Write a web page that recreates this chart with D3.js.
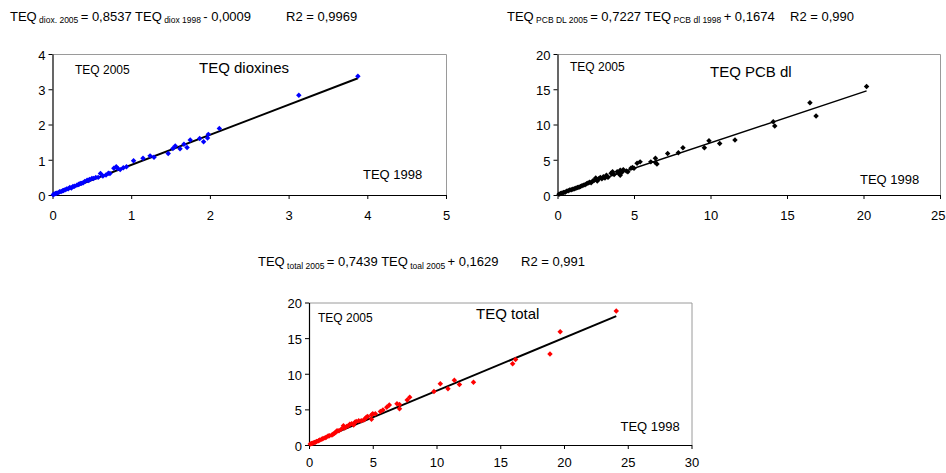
<!DOCTYPE html>
<html>
<head>
<meta charset="utf-8">
<script src="https://cdn.jsdelivr.net/npm/d3@7"></script>
<style>
  html, body { margin: 0; padding: 0; background: #fff; }
  svg { display: block; font-family: "Liberation Sans", Arial, sans-serif; }
</style>
</head>
<body>
<svg id="chart" width="946" height="473"></svg>
<script>
// TEQ 1998 (x) versus TEQ 2005 (y) for each sample, by group
const dioxX = [0.01,0.02,0.04,0.05,0.07,0.09,0.11,0.13,0.14,0.16,0.18,0.20,0.22,0.24,0.26,0.28,0.31,0.33,0.34,0.36,0.37,0.39,0.41,0.44,0.46,0.47,0.50,0.52,0.55,0.58,0.61,0.64,0.68,0.71,0.73,0.78,0.81,0.83,0.86,0.90,0.94,1.03,1.15,1.24,1.29,1.47,1.53,1.56,1.62,1.67,1.71,1.75,1.87,1.92,1.97,1.98,2.12,3.13,3.88];
const dioxY = [0.01,0.03,0.04,0.05,0.06,0.09,0.10,0.12,0.13,0.15,0.17,0.18,0.21,0.20,0.24,0.25,0.28,0.30,0.31,0.33,0.33,0.35,0.38,0.42,0.41,0.44,0.47,0.47,0.50,0.50,0.61,0.54,0.57,0.62,0.61,0.76,0.80,0.75,0.72,0.77,0.80,0.97,1.04,1.11,1.07,1.18,1.32,1.39,1.31,1.44,1.35,1.56,1.60,1.51,1.62,1.72,1.89,2.83,3.37];

const pcbX = [0.1,0.2,0.3,0.4,0.5,0.6,0.7,0.8,0.9,1.0,1.1,1.2,1.3,1.4,1.5,1.6,1.7,1.8,1.9,2.0,2.1,2.2,2.3,2.4,2.5,2.6,2.7,2.8,2.9,3.0,3.1,3.2,3.3,3.5,3.6,3.7,3.9,4.0,4.1,4.1,4.2,4.3,4.5,4.6,4.8,4.9,5.0,5.2,5.4,6.1,6.4,6.4,6.5,7.2,7.9,8.2,9.6,9.9,10.6,11.6,14.1,14.2,16.5,16.9,20.2];
const pcbY = [0.1,0.2,0.3,0.35,0.4,0.55,0.6,0.7,0.75,0.8,0.9,0.95,1.05,1.1,1.2,1.3,1.4,1.45,1.6,1.7,1.8,1.75,2.0,2.1,2.4,2.0,2.3,2.5,2.3,2.6,2.4,2.8,2.5,3.1,3.3,2.9,3.3,3.1,3.5,2.8,3.2,3.6,3.4,3.3,3.8,3.9,3.8,4.5,4.7,4.7,5.2,4.6,4.4,5.9,6.0,6.7,6.7,7.7,7.3,7.8,10.4,9.8,13.1,11.2,15.4];

const totX = [0.1,0.2,0.3,0.4,0.5,0.6,0.75,0.85,1.0,1.1,1.25,1.35,1.5,1.6,1.8,1.9,2.0,2.1,2.2,2.35,2.55,2.7,2.8,2.95,3.1,3.2,3.35,3.5,3.6,3.7,3.9,4.1,4.3,4.4,4.5,4.6,4.9,4.9,5.0,5.2,5.6,5.8,6.1,6.3,6.9,7.1,7.1,7.7,7.9,9.8,10.3,10.9,11.4,11.8,12.9,15.97,16.2,18.9,19.7,24.1];
const totY = [0.15,0.2,0.25,0.35,0.4,0.5,0.6,0.7,0.8,0.9,1.0,1.1,1.25,1.3,1.4,1.55,1.65,1.8,2.0,2.0,2.25,2.7,2.4,2.6,2.7,2.9,3.0,2.8,3.2,3.3,3.4,3.4,3.5,3.7,3.9,4.0,4.2,3.6,4.4,4.4,4.7,4.9,5.3,5.6,5.8,5.7,5.1,6.3,6.7,7.5,8.6,7.9,9.1,8.5,8.8,11.4,12.0,12.76,15.9,18.8];

// Linear fits (slope, intercept) as stated in the equations
const dioxFit = [0.8537, -0.0009];
const pcbFit = [0.7227, 0.1674];
const totFit = [0.7439, 0.1629];

// Axis tick values
const dioxXTicks = [0, 1, 2, 3, 4, 5];
const dioxYTicks = [0, 1, 2, 3, 4];
const pcbXTicks = [0, 5, 10, 15, 20, 25];
const pcbYTicks = [0, 5, 10, 15, 20];
const totXTicks = [0, 5, 10, 15, 20, 25, 30];
const totYTicks = [0, 5, 10, 15, 20];

// Panel titles and corner labels
const panelTitles = ["TEQ dioxines", "TEQ PCB dl", "TEQ total"];
const yLabelText = "TEQ 2005";
const xLabelText = "TEQ 1998";

const svg = d3.select("#chart");
const W = +svg.attr("width");

function drawPanel(p) {
  const x = d3.scaleLinear().domain([0, p.xTicks[p.xTicks.length - 1]]).range([p.left, p.right]);
  const y = d3.scaleLinear().domain([0, p.yTicks[p.yTicks.length - 1]]).range([p.bottom, p.top]);
  const g = svg.append("g");

  // plot frame: grey top and right edges
  g.append("path")
    .attr("d", `M${p.left},${p.top + 0.5}H${p.right + 0.5}V${p.bottom}`)
    .attr("fill", "none").attr("stroke", "#9a9a9a").attr("stroke-width", 1);

  const xAxis = g.append("g").attr("transform", `translate(0,${p.bottom})`)
    .call(d3.axisBottom(x).tickValues(p.xTicks).tickSize(4).tickSizeOuter(0).tickFormat(d3.format("d")));
  const yAxis = g.append("g").attr("transform", `translate(${p.left},0)`)
    .call(d3.axisLeft(y).tickValues(p.yTicks).tickSize(4).tickSizeOuter(0).tickFormat(d3.format("d")));
  [xAxis, yAxis].forEach(a => {
    a.select(".domain").attr("stroke", "#000").attr("stroke-width", 1.2);
    a.selectAll(".tick line").attr("stroke", "#000");
    a.selectAll(".tick text").attr("fill", "#000").style("font-size", "13px")
      .style("font-family", "Liberation Sans, Arial, sans-serif");
  });
  xAxis.selectAll(".tick text").attr("dy", null).attr("y", p.xLabelOffset);
  // keep a label that would run past the right edge inside the page
  xAxis.selectAll(".tick text").each(function (d) {
    const b = this.getBBox();
    const over = x(d) + b.width / 2 - (W - 1);
    if (over > 0) d3.select(this).attr("x", -over);
  });
  yAxis.selectAll(".tick text").attr("dy", "0.42em").attr("x", -7);

  // regression line over the observed range
  const x0 = d3.min(p.xs), x1 = d3.max(p.xs);
  g.append("line")
    .attr("x1", x(x0)).attr("y1", y(p.fit[0] * x0 + p.fit[1]))
    .attr("x2", x(x1)).attr("y2", y(p.fit[0] * x1 + p.fit[1]))
    .attr("stroke", "#000").attr("stroke-width", p.lineWidth);

  // diamond markers
  const sym = d3.symbol(d3.symbolSquare, 15);
  g.append("g").selectAll("path").data(p.xs.map((v, i) => [v, p.ys[i]])).join("path")
    .attr("d", sym)
    .attr("transform", d => `translate(${x(d[0])},${y(d[1])}) rotate(45)`)
    .attr("fill", p.color);

  g.append("text").attr("x", p.yLab[0]).attr("y", p.yLab[1]).style("font-size", "12px").text(yLabelText);
  g.append("text").attr("x", p.xLab[0]).attr("y", p.xLab[1]).style("font-size", "13px").text(xLabelText);
  g.append("text").attr("x", p.title[0]).attr("y", p.title[1]).style("font-size", "15px").text(p.titleText);
}

drawPanel({ left: 52.5, right: 446, top: 54, bottom: 195, xTicks: dioxXTicks, yTicks: dioxYTicks,
  xs: dioxX, ys: dioxY, fit: dioxFit, color: "#0000ff", lineWidth: 2, xLabelOffset: 25,
  yLab: [75, 74], xLab: [363, 179], title: [199, 73], titleText: panelTitles[0] });
drawPanel({ left: 557.5, right: 940, top: 54, bottom: 195, xTicks: pcbXTicks, yTicks: pcbYTicks,
  xs: pcbX, ys: pcbY, fit: pcbFit, color: "#000000", lineWidth: 1.5, xLabelOffset: 25,
  yLab: [570, 70.5], xLab: [860, 184], title: [710, 76.5], titleText: panelTitles[1] });
drawPanel({ left: 309, right: 691.5, top: 302.5, bottom: 445, xTicks: totXTicks, yTicks: totYTicks,
  xs: totX, ys: totY, fit: totFit, color: "#ff0000", lineWidth: 2, xLabelOffset: 22,
  yLab: [318, 321.5], xLab: [620.5, 430.5], title: [476, 319], titleText: panelTitles[2] });

// Regression equations written above each panel
function equation(xPos, yPos, parts, r2x, r2) {
  const t = svg.append("text").attr("x", xPos).attr("y", yPos).style("font-size", "13px");
  parts.forEach(pt => {
    const s = t.append("tspan").text(pt[0]);
    if (pt[1]) s.style("font-size", "8.5px").attr("dy", 2.5);
    else s.attr("dy", pt[2] ? -2.5 : 0);
  });
  svg.append("text").attr("x", r2x).attr("y", yPos).style("font-size", "13px").text(r2);
}
equation(10, 20.5, [["TEQ"], [" diox. 2005 ", true], ["= 0,8537 TEQ", false, true], [" diox 1998 ", true], ["- 0,0009", false, true]], 286, "R2 = 0,9969");
equation(507, 20.5, [["TEQ"], [" PCB DL 2005 ", true], ["= 0,7227 TEQ", false, true], [" PCB dl 1998 ", true], ["+ 0,1674", false, true]], 790, "R2 = 0,990");
equation(258, 266, [["TEQ"], [" total 2005 ", true], ["= 0,7439 TEQ", false, true], [" toal 2005 ", true], ["+ 0,1629", false, true]], 521, "R2 = 0,991");
</script>
</body>
</html>
